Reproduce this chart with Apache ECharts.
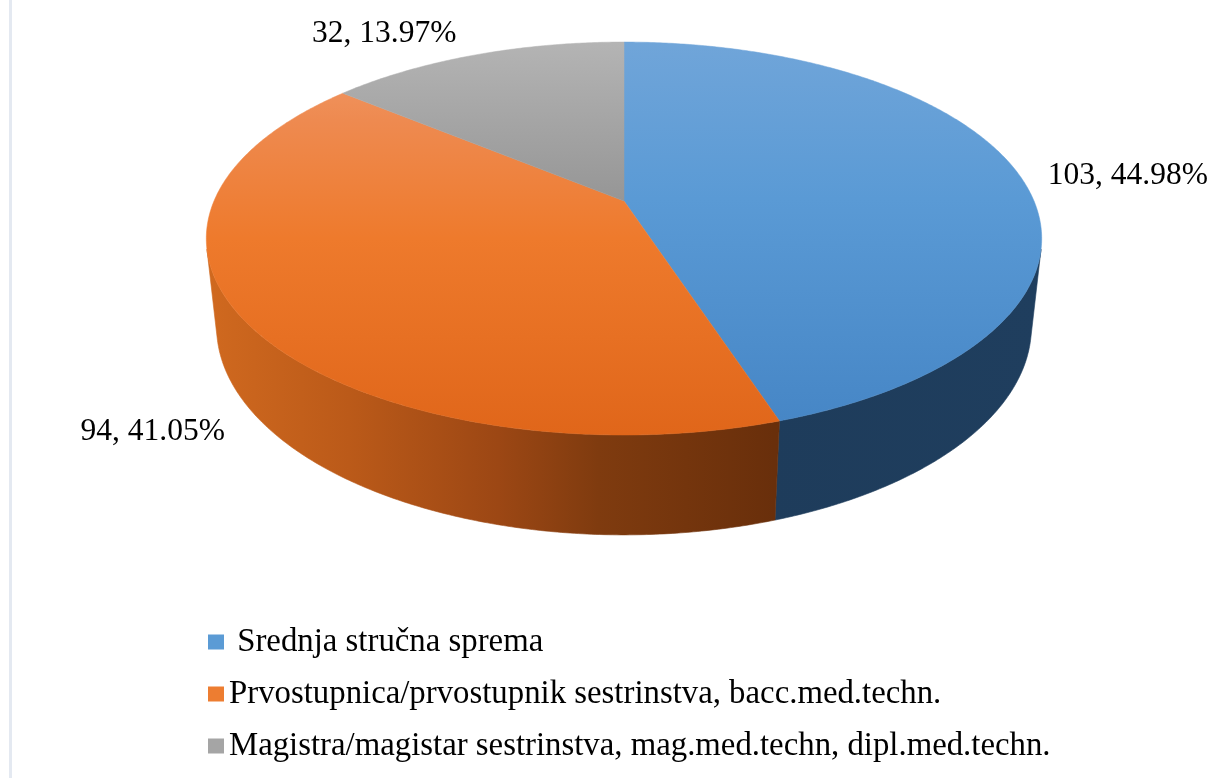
<!DOCTYPE html>
<html>
<head>
<meta charset="utf-8">
<script src="https://cdn.jsdelivr.net/npm/echarts@6/dist/echarts.min.js"></script>
<style>
html,body{margin:0;padding:0;background:#fff;}
#chart{width:1225px;height:778px;}
</style>
</head>
<body>
<div id="chart"></div>
<script>
// ---- data ----
const categories = [
  ' Srednja stručna sprema',
  'Prvostupnica/prvostupnik sestrinstva, bacc.med.techn.',
  'Magistra/magistar sestrinstva, mag.med.techn, dipl.med.techn.'
];
const values = [103, 94, 32];

// ---- styles ----
const baseColors = ['#5b9bd5', '#ed7d31', '#a5a5a5'];
const topStops = [
  [[0, '#70a5d9'], [0.4, '#5a9ad5'], [1, '#4585c5']],
  [[0, '#f29c6c'], [0.2, '#ee8a50'], [0.5, '#ee7a2c'], [1, '#e0661a']],
  [[0, '#b4b4b4'], [0.4, '#969696'], [1, '#888888']]
];
const wallStops = [
  [[0, '#1c3855'], [1, '#1f3e5e']],
  [[0, '#d0691f'], [0.17, '#bb5a19'], [0.35, '#9c4714'], [0.47, '#7f3b0f'], [0.68, '#692f0b'], [1, '#602a09']],
  [[0, '#7a7a7a'], [1, '#5a5a5a']]
];
const labelNudge = [[-15, 7], [21, 1], [-4, -6]];
const FONT = '"Liberation Serif", "Times New Roman", serif';

// ---- perspective view of the pie (unit radius) ----
const VIEW = { L: 4.644, alpha: 27.5 * Math.PI / 180, depth: 0.2445 };
const CA = Math.cos(VIEW.alpha), SA = Math.sin(VIEW.alpha);
function project(theta, r, z) {
  const X = r * Math.sin(theta), Y = r * Math.cos(theta);
  const d = VIEW.L + Y * CA - z * SA;
  return [X * VIEW.L / d, (Y * SA + z * CA) * VIEW.L / d];
}

const total = values.reduce((a, b) => a + b, 0);
const cum = [0];
values.forEach((v, i) => cum.push(cum[i] + v));
const TWO_PI = Math.PI * 2;
const tVis = Math.acos(-1 / (VIEW.L * CA)); // silhouette angle of the side wall

function makeRender(i) {
  return function (params, api) {
    const start = cum[i] / total * TWO_PI;
    const end = cum[i + 1] / total * TWO_PI;
    const P = (t, r, z) => api.coord(project(t, r, z));
    const children = [];

    // side wall (front-facing part only)
    const a0 = Math.max(start, tVis), a1 = Math.min(end, TWO_PI - tVis);
    if (a1 > a0) {
      const n = Math.max(4, Math.ceil((a1 - a0) / (Math.PI / 360)));
      const pts = [];
      for (let k = 0; k <= n; k++) pts.push(P(a0 + (a1 - a0) * k / n, 1, 0));
      for (let k = n; k >= 0; k--) pts.push(P(a0 + (a1 - a0) * k / n, 1, -VIEW.depth));
      const xl = P(TWO_PI - tVis, 1, 0)[0], xr = P(tVis, 1, 0)[0];
      const grad = new echarts.graphic.LinearGradient(xl, 0, xr, 0,
        wallStops[i].map(s => ({ offset: s[0], color: s[1] })), true);
      children.push({
        type: 'polygon', shape: { points: pts },
        style: { fill: grad, stroke: grad, lineWidth: 0.6 }, z2: 1
      });
    }

    // top face
    const tp = [P(0, 0, 0)];
    const m = Math.max(4, Math.ceil((end - start) / (Math.PI / 360)));
    for (let k = 0; k <= m; k++) tp.push(P(start + (end - start) * k / m, 1, 0));
    const yt = P(0, 1, 0)[1], yb = P(Math.PI, 1, 0)[1];
    const tg = new echarts.graphic.LinearGradient(0, yt, 0, yb,
      topStops[i].map(s => ({ offset: s[0], color: s[1] })), true);
    children.push({
      type: 'polygon', shape: { points: tp },
      style: { fill: tg, stroke: tg, lineWidth: 0.5 }, z2: 2
    });

    // data label
    const mid = (start + end) / 2;
    const front = Math.cos(mid) < 0;
    const anchor = P(mid, 1.12, front ? -VIEW.depth : 0);
    const sx = Math.sin(mid);
    const align = sx > 0.1 ? 'left' : (sx < -0.1 ? 'right' : 'center');
    const pct = (values[i] / total * 100).toFixed(2);
    children.push({
      type: 'text',
      x: anchor[0] + labelNudge[i][0],
      y: anchor[1] + labelNudge[i][1],
      style: {
        text: values[i] + ', ' + pct + '%',
        fill: '#000000',
        font: '31.5px ' + FONT,
        align: align, verticalAlign: 'middle',
        textAlign: align, textVerticalAlign: 'middle'
      },
      z2: 3
    });

    return { type: 'group', children: children };
  };
}

const chart = echarts.init(document.getElementById('chart'), null, { renderer: 'canvas' });
const series = categories.map((name, i) => ({
  type: 'custom',
  name: name,
  coordinateSystem: 'cartesian2d',
  data: [[i, values[i]]],
  itemStyle: { color: baseColors[i] },
  renderItem: makeRender(i),
  silent: true
}));

chart.setOption({
  animation: false,
  backgroundColor: '#ffffff',
  grid: { left: 29.5, top: 16.5, width: 1189, height: 553.5, containLabel: false },
  xAxis: { type: 'value', min: -1.45, max: 1.45, show: false, splitLine: { show: false } },
  yAxis: { type: 'value', min: -0.9, max: 0.45, show: false, splitLine: { show: false } },
  legend: {
    orient: 'vertical',
    left: 208, top: 624,
    padding: 0,
    itemWidth: 16, itemHeight: 15,
    itemGap: 16,
    icon: 'rect',
    selectedMode: false,
    data: categories,
    textStyle: { fontFamily: FONT, fontSize: 32.8, color: '#000000', lineHeight: 36 }
  },
  graphic: [{
    type: 'rect', silent: true,
    shape: { x: 9, y: 0, width: 3, height: 778 },
    style: { fill: '#e4e9f1' }
  }],
  series: series
});
</script>
</body>
</html>
